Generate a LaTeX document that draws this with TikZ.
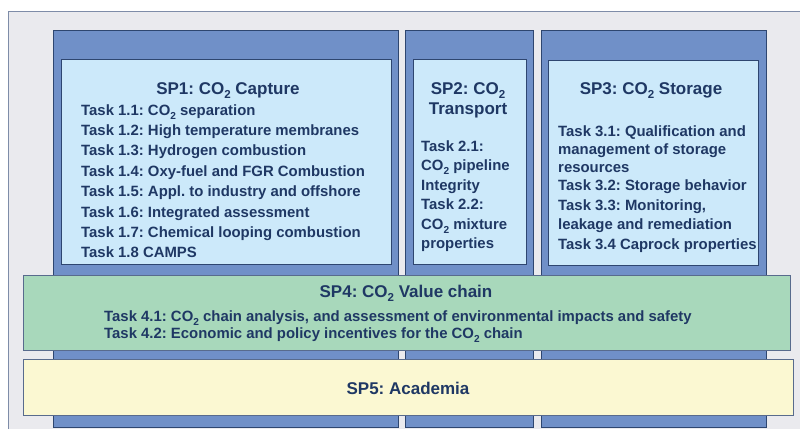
\documentclass[tikz,border=0pt]{standalone}
\usepackage{fontspec}
\setmainfont{Liberation Sans}
\usepackage{tikz}
\usetikzlibrary{positioning}

\definecolor{bggray}{HTML}{EAEAEE}
\definecolor{bgline}{HTML}{7E8CA8}
\definecolor{spblue}{HTML}{7090C8}
\definecolor{boxblue}{HTML}{CCE9FA}
\definecolor{chaingreen}{HTML}{A8D8BB}
\definecolor{acadyellow}{HTML}{FBF8D2}
\definecolor{edgenavy}{HTML}{2E4670}
\definecolor{textnavy}{HTML}{1F3864}

\newcommand{\cotwo}{CO\raisebox{-0.28em}{\scalebox{0.68}{2}}}
\frenchspacing

\tikzset{
  spcolumn/.style={fill=spblue,draw=edgenavy,line width=0.8pt},
  spinner/.style={fill=boxblue,draw=edgenavy,line width=0.8pt},
  spband/.style={draw=edgenavy!80,line width=0.8pt},
  sptitle/.style={text=textnavy,font=\fontsize{17}{20}\selectfont\bfseries,anchor=base,inner sep=0pt},
  sptask/.style={text=textnavy,font=\fontsize{14.9}{17}\selectfont\bfseries,anchor=base west,inner sep=0pt}
}

\begin{document}
\begin{tikzpicture}[x=1pt,y=-1pt]
				\useasboundingbox (0,0) rectangle (800,429);
				% background panel
				\fill[bggray] (8,11) rectangle (800,429);
				\draw[bgline,line width=0.8pt] (8,429) -- (8,11) -- (800,11);
				% sub project columns
				\draw[spcolumn] (53,30) rectangle (398,427);
				\draw[spcolumn] (405,30) rectangle (533,427);
				\draw[spcolumn] (541,30) rectangle (766,427);
				\draw[spinner] (61,59) rectangle (391,264);
				\draw[spinner] (413,59) rectangle (526,264);
				\draw[spinner] (548,60) rectangle (758,265);
				% horizontal bands
				\draw[spband,fill=chaingreen] (23,275) rectangle (790,350);
				\draw[spband,fill=acadyellow] (23,359) rectangle (793,415);
				% SP1
				\node[sptitle] (sp1) at (228,94) {SP1: \cotwo{} Capture};
				\foreach \txt [count=\i] in {
					{Task 1.1: \cotwo{} separation},
					{Task 1.2: High temperature membranes},
					{Task 1.3: Hydrogen combustion},
					{Task 1.4: Oxy-fuel and FGR Combustion},
					{Task 1.5: Appl. to industry and offshore},
					{Task 1.6: Integrated assessment},
					{Task 1.7: Chemical looping combustion},
					{Task 1.8 CAMPS}}
					\node[sptask] (t1-\i) at (81,{115+20.4*(\i-1)}) {\txt};
				% SP2
				\node[sptitle] (sp2) at (468,94) {SP2: \cotwo};
				\node[sptitle] (sp2b) at (468,114) {Transport};
				\foreach \txt [count=\i] in {
					{Task 2.1:},
					{\cotwo{} pipeline},
					{Integrity},
					{Task 2.2:},
					{\cotwo{} mixture},
					{properties}}
					\node[sptask] (t2-\i) at (421,{151+19.5*(\i-1)}) {\txt};
				% SP3
				\node[sptitle] (sp3) at (651,94) {SP3: \cotwo{} Storage};
				\foreach \y/\txt [count=\i] in {
					136/{Task 3.1: Qualification and},
					154/{management of storage},
					172/{resources},
					190/{Task 3.2: Storage behavior},
					210/{Task 3.3: Monitoring,},
					229/{leakage and remediation},
					249/{Task 3.4 Caprock properties}}
					\node[sptask] (t3-\i) at (558,\y) {\txt};
				% SP4
				\node[sptitle] (sp4) at (406,297) {SP4: \cotwo{} Value chain};
				\node[sptask] (t4-1) at (104,321) {Task 4.1: \cotwo{} chain analysis, and assessment of environmental impacts and safety};
				\node[sptask] (t4-2) at (104,338) {Task 4.2: Economic and policy incentives for the \cotwo{} chain};
				% SP5
				\node[sptitle] (sp5) at (408,394) {SP5: Academia};
\end{tikzpicture}
\end{document}
